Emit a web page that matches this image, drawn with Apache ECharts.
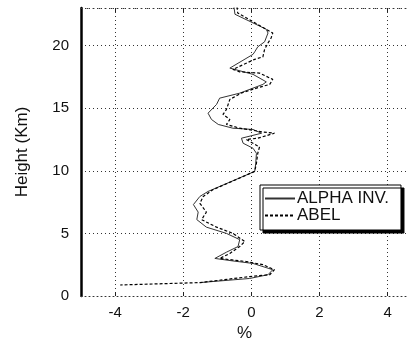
<!DOCTYPE html>
<html><head><meta charset="utf-8">
<script src="https://cdn.jsdelivr.net/npm/echarts@6/dist/echarts.min.js"></script>
<style>html,body{margin:0;padding:0;background:#fff}#c{width:417px;height:341px}</style>
</head><body><div id="c"></div>
<script>
// ALPHA INV. (solid): [percent, height km]
var alphaX = [-0.51,-0.48,0.44,0.49,0.39,0.19,0.10,0.05,-0.63,0.05,0.44,0.34,0.05,-0.34,-0.93,-1.02,-1.27,-1.17,-0.97,-0.54,0.05,0.30,-0.29,-0.24,0.05,0.15,0.13,0.10,-1.27,-1.51,-1.70,-1.56,-1.60,-1.32,-0.73,-0.34,-0.39,-0.73,-1.07,-0.54,0.05,0.63,0.49,-0.05,-1.51];
var alphaY = [23.1,22.5,21.3,21.0,20.3,19.9,19.5,19.3,18.2,17.7,17.1,16.9,16.6,16.2,15.8,15.3,14.6,14.1,13.7,13.4,13.3,13.0,12.6,12.2,11.8,11.4,10.6,9.95,8.35,7.95,7.3,6.7,6.1,5.5,5.0,4.5,3.95,3.5,3.0,2.8,2.6,2.1,1.7,1.4,1.07];
// ABEL (dashed)
var abelX = [-0.42,-0.40,0.63,0.58,0.49,0.39,0.34,0.10,-0.54,-0.34,0.24,0.63,0.54,0.15,-0.30,-0.63,-0.73,-0.83,-0.63,-0.73,-0.34,0.34,0.68,0.19,-0.15,0.24,0.19,0.15,0.10,-1.12,-1.41,-1.51,-1.32,-1.46,-1.02,-0.54,-0.19,-0.34,-0.63,-0.93,-0.15,0.34,0.68,0.54,-0.05,-1.51,-3.85];
var abelY = [23.1,22.6,21.0,20.6,20.2,19.7,19.1,18.9,18.1,17.9,17.8,17.3,16.9,16.6,16.2,15.7,14.9,14.5,14.1,13.7,13.4,13.1,13.0,12.6,12.5,11.9,11.4,10.6,9.95,8.5,7.95,7.4,6.7,6.1,5.5,5.0,4.35,3.95,3.4,3.0,2.75,2.5,2.1,1.7,1.55,1.07,0.88];
var xTicks = [-4,-2,0,2,4];
var yTicks = [0,5,10,15,20];
var seriesNames = ['ALPHA INV.','ABEL'];

function pairs(xs, ys){ return xs.map(function(v,i){return [v, ys[i]];}); }
var font = 'Liberation Sans, Arial, Helvetica, sans-serif';
var chart = echarts.init(document.getElementById('c'), null, {renderer:'canvas'});
chart.setOption({
  animation:false,
  backgroundColor:'#fff',
  grid:{left:81, top:8, width:327, height:288, containLabel:false, outerBoundsMode:'none'},
  legend:{
    orient:'vertical', left:260, top:185,
    data:seriesNames, itemWidth:30, itemHeight:12, itemGap:0,
    padding:[5,12,6,4],
    backgroundColor:'#fff', borderColor:'#000', borderWidth:1,
    shadowColor:'#000', shadowBlur:0, shadowOffsetX:3, shadowOffsetY:3,
    itemStyle:{opacity:0},
    textStyle:{fontFamily:font, fontSize:17, color:'#111', padding:[0,0,0,-3]}
  },
  xAxis:[{
    type:'value', min:-5, max:4.6, position:'bottom',
    name:'%', nameLocation:'middle', nameGap:28,
    nameTextStyle:{fontFamily:font, fontSize:17, color:'#111'},
    axisLine:{show:true, onZero:false, lineStyle:{color:'#333', type:[1,3], width:1}},
    axisTick:{show:true, inside:true, length:4, customValues:xTicks, lineStyle:{color:'#222'}},
    axisLabel:{customValues:xTicks, fontFamily:font, fontSize:15, color:'#111', margin:9},
    splitLine:{show:true, lineStyle:{color:'#333', type:[1,3], width:1}}
  },{
    type:'value', min:-5, max:4.6, position:'top',
    axisLine:{show:true, onZero:false, lineStyle:{color:'#333', type:[1,5], width:1}},
    axisTick:{show:true, inside:true, length:4, customValues:xTicks, lineStyle:{color:'#222'}},
    axisLabel:{show:false}, splitLine:{show:false}
  }],
  yAxis:{
    type:'value', min:0, max:23, interval:5,
    name:'Height (Km)', nameLocation:'middle', nameGap:50,
    nameTextStyle:{fontFamily:font, fontSize:17, color:'#111'},
    axisLine:{show:true, onZero:false, lineStyle:{color:'#000', width:2.5}},
    axisTick:{show:false},
    axisLabel:{customValues:yTicks, fontFamily:font, fontSize:15, color:'#111', margin:12},
    splitLine:{show:true, lineStyle:{color:'#333', type:[1,3], width:1}}
  },
  series:[{
    name:seriesNames[0], type:'line', data:pairs(alphaX, alphaY), showSymbol:false, symbol:'none',
    lineStyle:{color:'#333', width:1, type:'solid'}, itemStyle:{color:'#333'}
  },{
    name:seriesNames[1], type:'line', data:pairs(abelX, abelY), showSymbol:false, symbol:'none',
    lineStyle:{color:'#000', width:1.2, type:[3,2]}, itemStyle:{color:'#000'}
  }]
});
</script></body></html>
